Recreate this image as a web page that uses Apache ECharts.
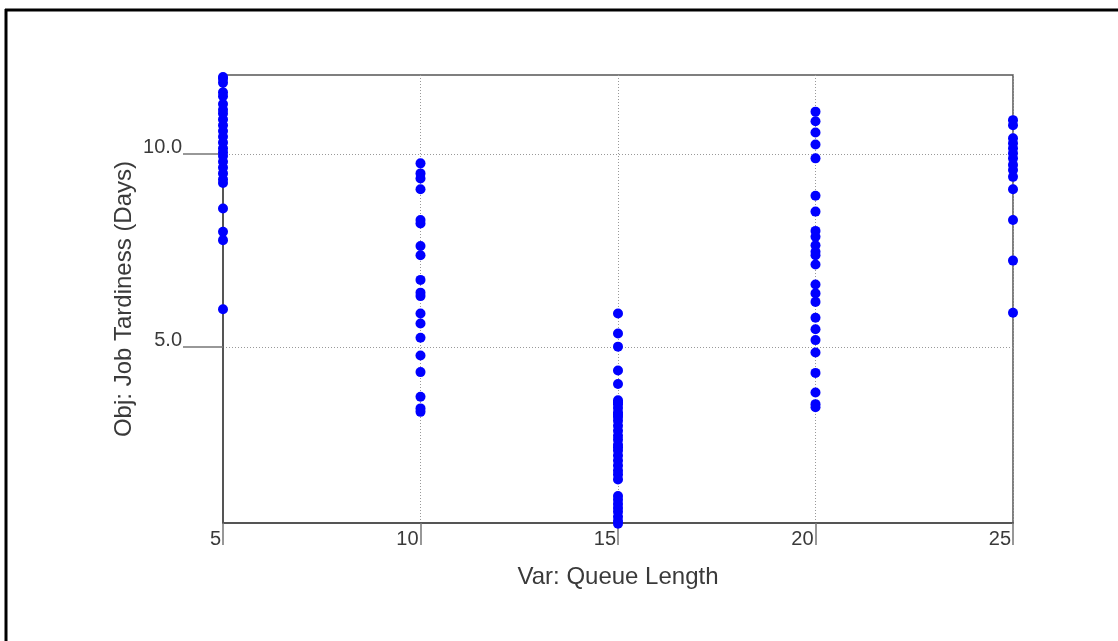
<!DOCTYPE html>
<html>
<head>
<meta charset="utf-8">
<script src="https://cdn.jsdelivr.net/npm/echarts@6/dist/echarts.min.js"></script>
<style>html,body{margin:0;padding:0;background:#fff;}#c{width:1118px;height:641px;}</style>
</head>
<body>
<div id="c"></div>
<script>
// Queue length levels and observed job tardiness (days)
const queue5 = [12.0, 11.95, 11.85, 11.6, 11.5, 11.3, 11.15, 11.05, 10.9, 10.75, 10.6, 10.45, 10.3, 10.15, 10.05, 9.95, 9.8, 9.65, 9.5, 9.35, 9.25, 8.59, 7.99, 7.77, 5.98];
const queue10 = [9.76, 9.50, 9.37, 9.09, 8.29, 8.20, 7.62, 7.38, 6.74, 6.41, 6.32, 5.87, 5.61, 5.24, 4.78, 4.35, 3.71, 3.41, 3.32];
const queue15 = [5.87, 5.35, 5.01, 4.39, 4.04, 3.62, 3.57, 3.52, 3.42, 3.31, 3.25, 3.19, 3.09, 2.96, 2.83, 2.70, 2.60, 2.47, 2.40, 2.32, 2.19, 2.06, 1.93, 1.80, 1.70, 1.57, 1.14, 1.04, 0.93, 0.83, 0.73, 0.60, 0.49, 0.42];
const queue20 = [11.10, 10.85, 10.56, 10.25, 9.89, 8.92, 8.51, 8.01, 7.86, 7.64, 7.47, 7.38, 7.14, 6.62, 6.39, 6.17, 5.76, 5.46, 5.18, 4.86, 4.33, 3.82, 3.52, 3.44];
const queue25 = [10.88, 10.75, 10.41, 10.28, 10.15, 10.02, 9.89, 9.72, 9.59, 9.41, 9.09, 8.29, 7.24, 5.89];
const xTicks = [5, 10, 15, 20, 25];
const yTicks = [5, 10];
const xName = 'Var: Queue Length';
const yName = 'Obj: Job Tardiness (Days)';

const groups = [[5, queue5], [10, queue10], [15, queue15], [20, queue20], [25, queue25]];
const points = [];
groups.forEach(([q, arr]) => arr.forEach(v => points.push([q, v])));

const chart = echarts.init(document.getElementById('c'), null, {renderer: 'canvas'});
const textColor = '#3a3a3a';
chart.setOption({
  animation: false,
  backgroundColor: '#fff',
  graphic: [
    {type: 'line', shape: {x1: 5, y1: 10, x2: 1118, y2: 10}, style: {stroke: '#000', lineWidth: 3}},
    {type: 'line', shape: {x1: 6, y1: 9, x2: 6, y2: 641}, style: {stroke: '#000', lineWidth: 3}}
  ],
  grid: {
    left: 223, right: 105, top: 75, bottom: 118,
    show: true, borderColor: '#555', borderWidth: 1.5, backgroundColor: 'transparent'
  },
  xAxis: {
    type: 'value', min: xTicks[0], max: xTicks[xTicks.length - 1], interval: 5,
    name: xName, nameLocation: 'middle', nameGap: 42, nameMoveOverlap: false,
    nameTextStyle: {fontFamily: 'Liberation Sans', fontSize: 24, color: textColor},
    axisLine: {show: true, lineStyle: {color: '#555', width: 2}},
    axisTick: {show: true, length: 22, lineStyle: {color: '#777', width: 1.5}},
    axisLabel: {fontFamily: 'Liberation Sans', fontSize: 20, color: textColor, align: 'right', margin: 6, padding: [0, 2, 0, 0]},
    splitLine: {show: true, lineStyle: {color: '#999', type: [1, 2], width: 1}}
  },
  yAxis: {
    type: 'value', min: 0.44, max: 12.05,
    name: yName, nameLocation: 'middle', nameGap: 87, nameMoveOverlap: false,
    nameTextStyle: {fontFamily: 'Liberation Sans', fontSize: 24, color: textColor},
    axisLine: {show: true, lineStyle: {color: '#555', width: 2}},
    axisTick: {show: true, length: 40, customValues: yTicks, lineStyle: {color: '#777', width: 1.5}},
    axisLabel: {fontFamily: 'Liberation Sans', fontSize: 20, color: textColor, margin: 41, verticalAlign: 'bottom', lineHeight: 14, customValues: yTicks, formatter: v => v.toFixed(1)},
    splitLine: {show: true, lineStyle: {color: '#999', type: [1, 2], width: 1}}
  },
  series: [{
    type: 'scatter',
    data: points,
    symbol: 'circle',
    symbolSize: 10,
    itemStyle: {color: '#0000ff', opacity: 1},
    clip: false
  }]
});
</script>
</body>
</html>
